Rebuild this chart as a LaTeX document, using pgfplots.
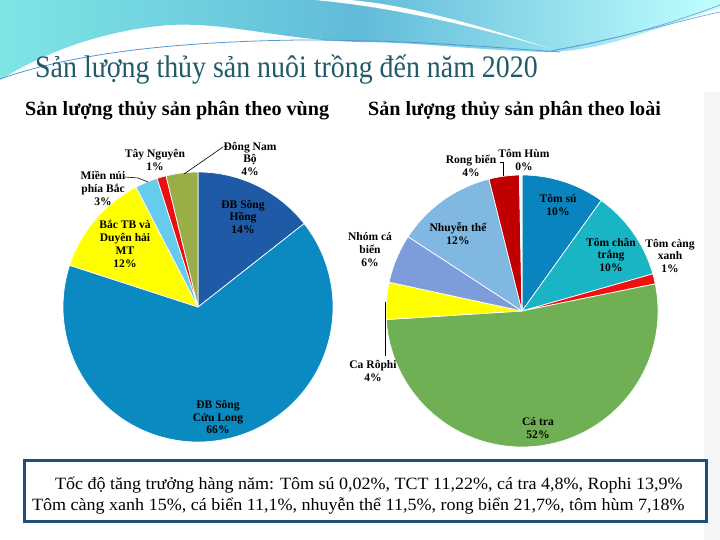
\documentclass[border=0pt]{standalone}
\usepackage{pgfplots}
\pgfplotsset{compat=1.18}
\usepackage{pgfplotstable}
\usepackage{graphicx}
\usepackage{fontspec}
\setmainfont{Liberation Serif}

% ---- colours ----
\definecolor{regc1}{HTML}{1E5AA5}
\definecolor{regc2}{HTML}{0B8AC2}
\definecolor{regc3}{HTML}{FFFF00}
\definecolor{regc4}{HTML}{66CCEE}
\definecolor{regc5}{HTML}{E81010}
\definecolor{regc6}{HTML}{9AAE48}
\definecolor{spc1}{HTML}{0A84BE}
\definecolor{spc2}{HTML}{1AB5C5}
\definecolor{spc3}{HTML}{F01010}
\definecolor{spc4}{HTML}{6FB055}
\definecolor{spc5}{HTML}{FFFF00}
\definecolor{spc6}{HTML}{7C9DDA}
\definecolor{spc7}{HTML}{80B8E2}
\definecolor{spc8}{HTML}{C00000}
\definecolor{spc9}{HTML}{F4F8FB}
\definecolor{titlecol}{HTML}{215A6B}
\definecolor{boxblue}{HTML}{1F4E79}

% ---- data (percent shares, clockwise from 12 o'clock) ----
\pgfplotstableread[col sep=comma]{
region,share
ĐB Sông Hồng,14.4
ĐB Sông Cửu Long,65.6
Bắc TB và Duyên hải MT,12.4
Miền núi phía Bắc,2.7
Tây Nguyên,1.1
Đông Nam Bộ,3.8
}\regiontable

\pgfplotstableread[col sep=comma]{
species,share
Tôm sú,9.9
Tôm chân trắng,10.7
Tôm càng xanh,1.2
Cá tra,52.2
Cá Rôphi,4.4
Nhóm cá biển,5.8
Nhuyễn thể,11.9
Rong biển,3.6
Tôm hùm,0.3
}\speciestable

\newcommand\drawpie[3]{%
  \pgfplotstablegetrowsof{#1}%
  \pgfmathtruncatemacro\lastrow{\pgfplotsretval-1}%
  \gdef\cum{0}%
  \foreach \i in {0,...,\lastrow}{%
    \pgfplotstablegetelem{\i}{share}\of{#1}%
    \let\val\pgfplotsretval
    \pgfmathsetmacro\angA{90-3.6*\cum}%
    \pgfmathsetmacro\angB{90-3.6*(\cum+\val)}%
    \pgfmathtruncatemacro\k{\i+1}%
    \fill[fill=#2\k, draw=white, line width=0.7pt, line join=round]
      (axis cs:0,0) -- ++(\angA:#3) arc[start angle=\angA, end angle=\angB, radius=#3] -- cycle;%
    \pgfmathsetmacro\newcum{\cum+\val}%
    \xdef\cum{\newcum}%
  }%
}

\newcommand\lbl{\fontsize{11.6}{13}\selectfont\bfseries}

\begin{document}
\begin{tikzpicture}[x=1bp, y=-1bp]
\useasboundingbox (0,0) rectangle (720,540);
\fill[white] (0,0) rectangle (720,540);
\fill[black!4] (704,92) rectangle (720,540);

% ---- slide decoration ----
\shade[left color=cyan!45!white!90!black, right color=cyan!25!white, middle color=blue!25!cyan!55!white!85!black]
  (0,0) -- (720,0) -- (720,8) .. controls (650,30) and (600,52) .. (545,52)
  .. controls (470,50) and (420,42) .. (360,42) .. controls (280,40) and (230,22) .. (170,25)
  .. controls (100,30) and (40,55) .. (0,80) -- cycle;
\fill[white] (315,0) .. controls (400,8) and (480,28) .. (548,48) .. controls (470,22) and (400,4) .. (350,0) -- cycle;
\draw[cyan!60!blue!70!white, line width=0.8bp] (0,79) .. controls (60,58) and (150,42) .. (300,40) .. controls (420,40) and (500,48) .. (560,52);
\draw[cyan!50!blue!60!white, line width=0.6bp] (545,52) .. controls (620,40) and (680,20) .. (720,5);
\draw[cyan!50!blue!60!white, line width=0.6bp] (555,50) .. controls (630,36) and (690,18) .. (720,12);

% ---- titles ----
\node[anchor=base west, inner sep=0, text=titlecol, font=\fontsize{28}{30}\selectfont]
  at (35,78) {\scalebox{1}[1.12]{Sản lượng thủy sản nuôi trồng đến năm 2020}};
\node[anchor=base west, inner sep=0, font=\fontsize{20.2}{22}\selectfont\bfseries]
  at (25,116) {Sản lượng thủy sản phân theo vùng};
\node[anchor=base west, inner sep=0, font=\fontsize{20.2}{22}\selectfont\bfseries]
  at (368,116) {Sản lượng thủy sản phân theo loài};

% ---- pies ----
\begin{axis}[at={(198bp,-307bp)}, anchor=center, width=270bp, height=270bp,
  scale only axis, hide axis, xmin=-1, xmax=1, ymin=-1, ymax=1]
\pgfplotsextra{\drawpie{\regiontable}{regc}{135bp}}
\end{axis}
\begin{axis}[at={(522bp,-311bp)}, anchor=center, width=272bp, height=272bp,
  scale only axis, hide axis, xmin=-1, xmax=1, ymin=-1, ymax=1]
\pgfplotsextra{\drawpie{\speciestable}{spc}{136bp}}
\end{axis}

% ---- leader lines ----
\draw[line width=0.6bp] (223,147) -- (184,174);
\draw[line width=0.6bp] (125,177) -- (138,178) -- (148,182);
\draw[line width=0.6bp] (500,162) -- (503,162) -- (503,176);
\draw[line width=0.6bp] (385.5,302) -- (385.5,356);

% ---- labels, left pie ----
\node[font=\lbl, align=center] at (250,159) {Đông Nam\\Bộ\\4\%};
\node[font=\lbl, align=center] at (155,160) {Tây Nguyên\\1\%};
\node[font=\lbl, align=center] at (103,188) {Miền núi\\phía Bắc\\3\%};
\node[font=\lbl, align=center] at (125,244) {Bắc TB và\\Duyên hải\\MT\\12\%};
\node[font=\lbl, align=center] at (243,217) {ĐB Sông\\Hồng\\14\%};
\node[font=\lbl, align=center] at (218,417) {ĐB Sông\\Cửu Long\\66\%};

% ---- labels, right pie ----
\node[font=\lbl, align=center] at (471,166) {Rong biển\\4\%};
\node[font=\lbl, align=center] at (524,160) {Tôm Hùm\\0\%};
\node[font=\lbl, align=center] at (558,205) {Tôm sú\\10\%};
\node[font=\lbl, align=center] at (611,255) {Tôm chân\\trắng\\10\%};
\node[font=\lbl, align=center] at (670,256) {Tôm càng\\xanh\\1\%};
\node[font=\lbl, align=center] at (458,234) {Nhuyễn thể\\12\%};
\node[font=\lbl, align=center] at (370,250) {Nhóm cá\\biển\\6\%};
\node[font=\lbl, align=center] at (373,371) {Ca Rôphi\\4\%};
\node[font=\lbl, align=center] at (538,428) {Cá tra\\52\%};

% ---- bottom box ----
\draw[boxblue, line width=3bp, fill=white] (24,460) rectangle (706,521);
\node[anchor=base west, inner sep=0, font=\fontsize{17.3}{18}\selectfont] at (55,489)
  {\scalebox{1.045}[1]{Tốc độ tăng trưởng hàng năm: Tôm sú 0,02\%, TCT 11,22\%, cá tra 4,8\%, Rophi 13,9\%}};
\node[anchor=base west, inner sep=0, font=\fontsize{17.3}{18}\selectfont] at (32,510)
  {\scalebox{1.045}[1]{Tôm càng xanh 15\%, cá biển 11,1\%, nhuyễn thể 11,5\%, rong biển 21,7\%, tôm hùm 7,18\%}};
\end{tikzpicture}
\end{document}
